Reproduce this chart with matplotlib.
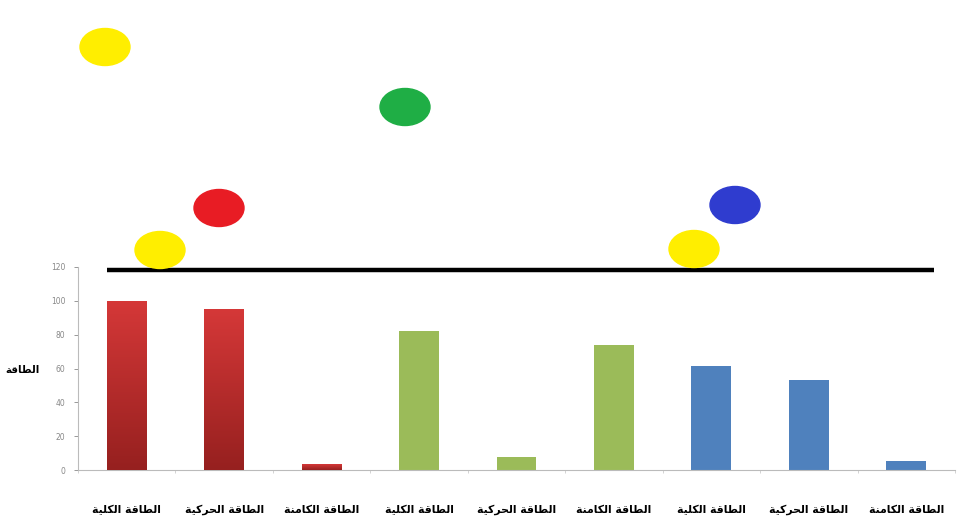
import numpy as np
import matplotlib
matplotlib.use('Agg')
import matplotlib.pyplot as plt
from matplotlib.patches import Ellipse
from matplotlib.colors import LinearSegmentedColormap

# data
labels = ['الطاقة الكلية', 'الطاقة الحركية', 'الطاقة الكامنة',
          'الطاقة الكلية', 'الطاقة الحركية', 'الطاقة الكامنة',
          'الطاقة الكلية', 'الطاقة الحركية', 'الطاقة الكامنة']
values = [100, 95, 3.5, 82, 7.5, 74, 61.5, 53, 5.5]
groups = [0, 0, 0, 1, 1, 1, 2, 2, 2]
ref_level = 118
y_ticks = [0, 20, 40, 60, 80, 100, 120]
y_title = 'الطاقة'

# decoration dots above the chart (figure pixel centres, colours)
dot_xy = [(105, 47), (405, 107), (219, 208), (160, 250), (735, 205), (694, 249)]
dot_col = ['#ffee00', '#1fae45', '#e81c24', '#ffee00', '#2f3ccf', '#ffee00']


# simple arabic shaping (presentation forms) since matplotlib has no bidi
DUAL = {'ل': 0xFEDD, 'ط': 0xFEC1, 'ق': 0xFED5, 'ك': 0xFED9, 'ي': 0xFEF1,
        'ح': 0xFEA1, 'م': 0xFEE1, 'ن': 0xFEE5}
RIGHT = {'ا': 0xFE8D, 'ة': 0xFE93, 'ر': 0xFEAD}


def shape(txt):
    out = []
    for i, ch in enumerate(txt):
        if ch not in DUAL and ch not in RIGHT:
            out.append(ch)
            continue
        prev = txt[i - 1] if i > 0 else ' '
        nxt = txt[i + 1] if i + 1 < len(txt) else ' '
        jp = prev in DUAL
        jn = ch in DUAL and (nxt in DUAL or nxt in RIGHT)
        base = DUAL.get(ch, RIGHT.get(ch))
        if jp and jn:
            off = 3
        elif jp:
            off = 1
        elif jn:
            off = 2
        else:
            off = 0
        out.append(chr(base + off))
    return ''.join(out)[::-1]


plt.rcParams['font.family'] = ['DejaVu Sans']

W, H = 957, 521
fig = plt.figure(figsize=(W / 100, H / 100), dpi=100)
ax = fig.add_axes([78 / W, (H - 470) / H, (955 - 78) / W, (470 - 267) / H])

x = np.arange(len(values))
bw = 0.41
colors = ['#c0302f', '#9bbb59', '#4f81bd']
bars = ax.bar(x, values, width=bw, color=[colors[g] for g in groups], zorder=2)

# red bars get a vertical gradient
red_cmap = LinearSegmentedColormap.from_list('r', ['#96201f', '#d53838'])
grad = np.linspace(0, 1, 256).reshape(-1, 1)
for b, g in zip(bars, groups):
    if g != 0:
        continue
    x0, y0 = b.get_x(), b.get_y()
    im = ax.imshow(grad, cmap=red_cmap, origin='lower', aspect='auto',
                   extent=(x0, x0 + b.get_width(), y0, y0 + b.get_height()), zorder=3)
    im.set_clip_path(b)

ax.set_xlim(-0.5, len(values) - 0.5)
ax.set_ylim(0, 120)

# horizontal reference line
ax.plot([-0.2, len(values) - 0.72], [ref_level, ref_level], color='black', lw=3.2,
        solid_capstyle='butt', clip_on=False, zorder=4)

for s in ['top', 'right']:
    ax.spines[s].set_visible(False)
ax.spines['left'].set_color('#bbbbbb')
ax.spines['bottom'].set_color('#bbbbbb')
ax.spines['left'].set_linewidth(0.8)
ax.spines['bottom'].set_linewidth(0.8)

ax.set_yticks(y_ticks)
ax.set_yticklabels([str(t) for t in y_ticks])
ax.tick_params(axis='y', labelsize=5.5, colors='#888888', length=3, width=0.6, pad=6)

ax.set_xticks(x)
ax.set_xticklabels([shape(l) for l in labels], fontsize=7.8, fontweight='bold')
ax.tick_params(axis='x', length=0, pad=25)
ax.set_xticks(np.arange(len(values) + 1) - 0.5, minor=True)
ax.tick_params(axis='x', which='minor', length=2, color='#cccccc', width=0.6)

fig.text(22 / W, 1 - 370 / H, shape(y_title), fontsize=7.5, fontweight='bold',
         ha='center', va='center')

for (cx, cy), c in zip(dot_xy, dot_col):
    e = Ellipse((cx / W, 1 - cy / H), 50 / W, 37 / H, color=c,
                transform=fig.transFigure, zorder=5)
    fig.add_artist(e)

fig.savefig('out.png', dpi=100, facecolor='white')
